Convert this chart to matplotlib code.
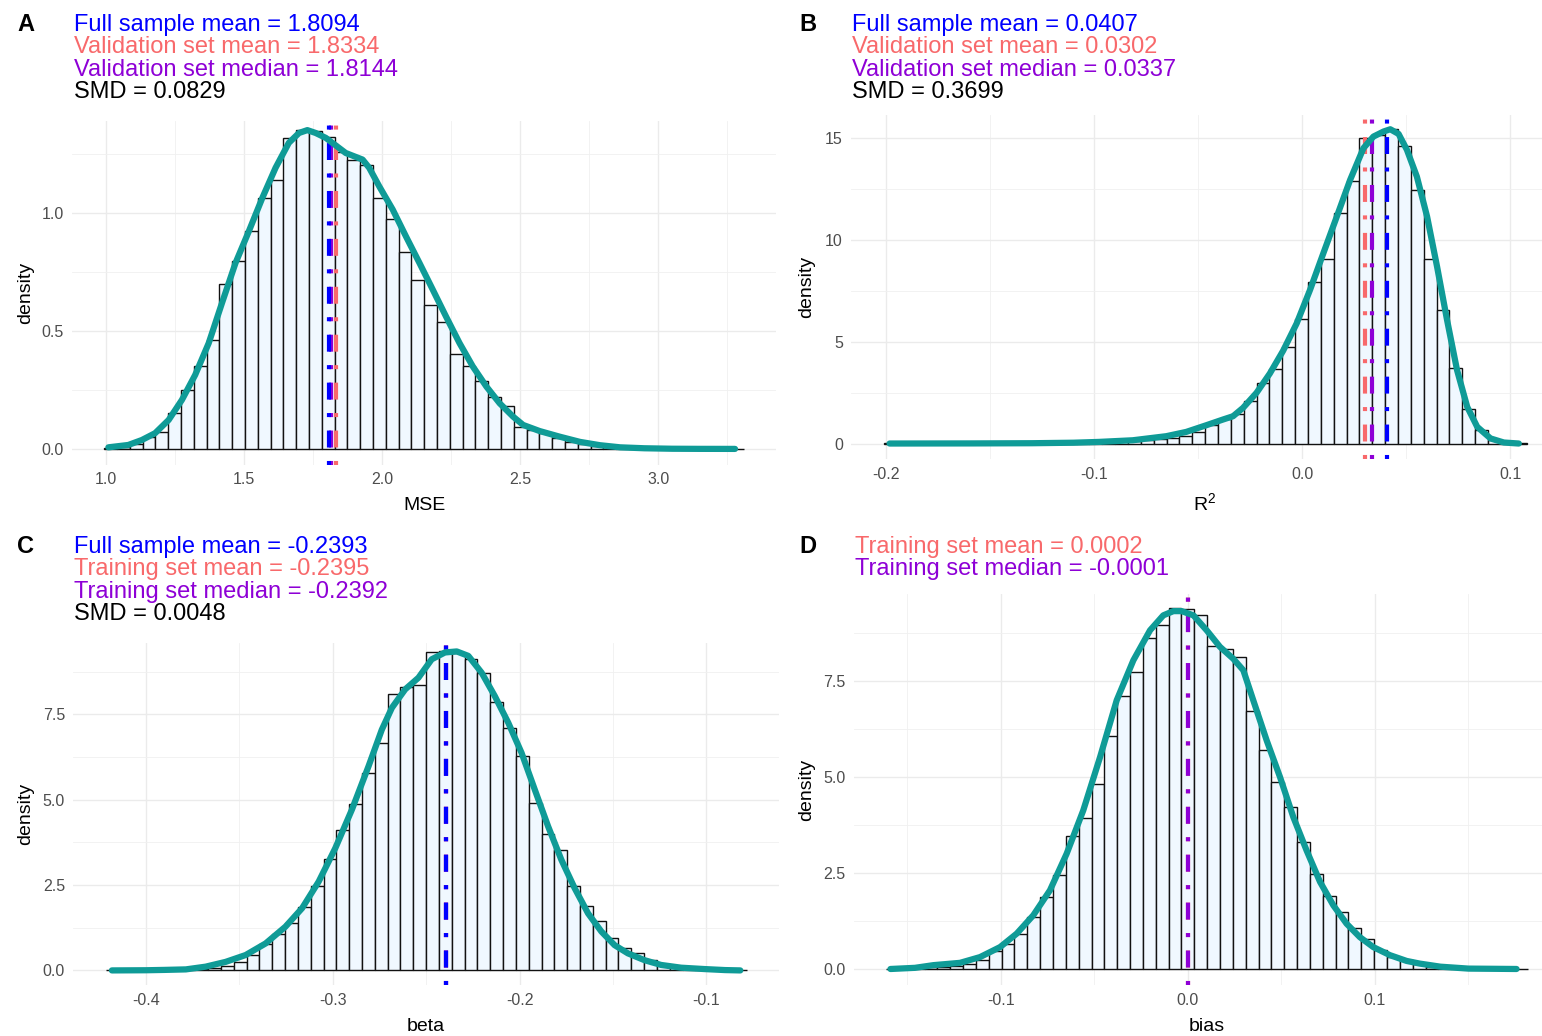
import numpy as np
import matplotlib
matplotlib.use("Agg")
import matplotlib.pyplot as plt
from matplotlib.ticker import FixedLocator, FixedFormatter

plt.rcParams['font.family'] = ['Liberation Sans', 'DejaVu Sans']
plt.rcParams['lines.scale_dashes'] = False
plt.rcParams['axes.unicode_minus'] = False

W, H = 1542, 1036

# ---------------- data ----------------
# Panel A: MSE
mse_bin_start = 0.995
mse_bin_width = 0.04632
mse_hist = [0.003, 0.01, 0.022, 0.052, 0.07, 0.152, 0.25, 0.35, 0.463, 0.70,
            0.796, 0.923, 1.065, 1.143, 1.32, 1.355, 1.348, 1.323, 1.26, 1.228,
            1.204, 1.065, 0.976, 0.834, 0.715, 0.612, 0.54, 0.402, 0.35, 0.29,
            0.222, 0.184, 0.095, 0.081, 0.069, 0.045, 0.031, 0.02, 0.013, 0.007,
            0.004, 0.003, 0.002, 0.001, 0.001, 0.001, 0.0005, 0.0005, 0.0005, 0.0005]
mse_dens_x = [1.010, 1.082, 1.131, 1.179, 1.228, 1.276, 1.324, 1.373, 1.421, 1.470,
              1.518, 1.567, 1.615, 1.663, 1.700, 1.730, 1.760, 1.797, 1.833, 1.869,
              1.906, 1.930, 1.954, 1.990, 2.039, 2.087, 2.136, 2.184, 2.232, 2.281,
              2.329, 2.378, 2.426, 2.475, 2.511, 2.571, 2.644, 2.717, 2.789, 2.862,
              2.950, 3.050, 3.150, 3.278]
mse_dens_y = [0.007, 0.017, 0.038, 0.067, 0.123, 0.208, 0.314, 0.449, 0.619, 0.789,
              0.923, 1.065, 1.193, 1.299, 1.341, 1.353, 1.341, 1.320, 1.288, 1.256,
              1.239, 1.228, 1.193, 1.115, 1.016, 0.902, 0.789, 0.676, 0.562, 0.449,
              0.350, 0.265, 0.194, 0.137, 0.102, 0.076, 0.052, 0.030, 0.016, 0.007,
              0.003, 0.001, 0.0005, 0.0003]
mse_full_mean, mse_set_mean, mse_set_median, mse_smd = 1.8094, 1.8334, 1.8144, 0.0829

# Panel B: R^2
r2_bin_start = -0.2012
r2_bin_width = 0.00618
r2_hist = [0.005, 0.005, 0.005, 0.005, 0.005, 0.01, 0.01, 0.01, 0.01, 0.015,
           0.02, 0.02, 0.03, 0.03, 0.04, 0.05, 0.06, 0.08, 0.1, 0.12,
           0.15, 0.2, 0.26, 0.38, 0.58, 0.92, 1.2, 1.45, 2.1, 2.98,
           3.64, 4.75, 6.1, 7.92, 9.07, 11.34, 12.92, 15.0, 15.15, 15.46,
           14.62, 12.46, 9.07, 6.56, 3.69, 1.70, 0.66, 0.16, 0.05, 0.01]
r2_dens_x = [-0.1984, -0.16, -0.13, -0.11, -0.0976, -0.0815, -0.0654, -0.0558, -0.0461,
             -0.0381, -0.0333, -0.0285, -0.0220, -0.0156, -0.0092, -0.0027, 0.0037,
             0.0101, 0.0166, 0.0230, 0.0294, 0.0342, 0.0391, 0.0423, 0.0463, 0.0503,
             0.0551, 0.0600, 0.0648, 0.0696, 0.0744, 0.0793, 0.0841, 0.0905, 0.0969, 0.1041]
r2_dens_y = [0.0, 0.005, 0.015, 0.04, 0.08, 0.16, 0.36, 0.57, 0.90,
             1.18, 1.34, 1.75, 2.49, 3.44, 4.56, 5.90, 7.54,
             9.34, 11.15, 12.95, 14.51, 15.08, 15.33, 15.44, 15.21, 14.43,
             13.11, 11.15, 8.69, 6.07, 3.61, 1.80, 0.82, 0.25, 0.05, 0.0]
r2_full_mean, r2_set_mean, r2_set_median, r2_smd = 0.0407, 0.0302, 0.0337, 0.3699

# Panel C: beta
beta_bin_start = -0.4216
beta_bin_width = 0.006864
beta_hist = [0.002, 0.003, 0.005, 0.008, 0.01, 0.015, 0.02, 0.03, 0.06, 0.13,
             0.25, 0.45, 0.77, 1.07, 1.38, 1.85, 2.48, 3.26, 4.12, 4.88,
             5.78, 6.66, 8.08, 8.31, 8.35, 9.32, 9.34, 9.30, 9.11, 8.72,
             7.87, 7.1, 6.29, 4.9, 4.0, 3.53, 2.48, 1.89, 1.45, 0.96,
             0.65, 0.52, 0.3, 0.18, 0.11, 0.06, 0.03, 0.015, 0.008, 0.004]
beta_dens_x = [-0.4182, -0.40, -0.39, -0.3786, -0.368, -0.3573, -0.3466, -0.3359, -0.3253,
               -0.3164, -0.3075, -0.2986, -0.2897, -0.2808, -0.2737, -0.2683, -0.2612,
               -0.2541, -0.2470, -0.2399, -0.2336, -0.2274, -0.2203, -0.2132, -0.2060,
               -0.1989, -0.1918, -0.1847, -0.1776, -0.1705, -0.1633, -0.1562, -0.1491,
               -0.1420, -0.1331, -0.1242, -0.1135, -0.1011, -0.0900, -0.0818]
beta_dens_y = [0.0, 0.005, 0.015, 0.03, 0.11, 0.25, 0.45, 0.79, 1.28,
               1.82, 2.60, 3.58, 4.71, 5.98, 7.05, 7.69, 8.23,
               8.57, 9.11, 9.31, 9.34, 9.21, 8.72, 8.03, 7.25,
               6.37, 5.29, 4.22, 3.24, 2.41, 1.67, 1.14, 0.74,
               0.50, 0.30, 0.16, 0.08, 0.04, 0.01, 0.0]
beta_full_mean, beta_set_mean, beta_set_median, beta_smd = -0.2393, -0.2395, -0.2392, 0.0048

# Panel D: bias
bias_bin_start = -0.1615
bias_bin_width = 0.00687
bias_hist = [0.005, 0.01, 0.02, 0.04, 0.06, 0.08, 0.12, 0.23, 0.47, 0.64,
             0.92, 1.35, 1.88, 2.44, 3.47, 3.93, 4.83, 6.08, 7.11, 7.73,
             8.63, 8.97, 9.41, 9.38, 9.23, 8.40, 8.34, 8.13, 6.71, 5.71,
             4.87, 4.22, 3.31, 2.48, 1.89, 1.48, 1.07, 0.79, 0.5, 0.31,
             0.23, 0.12, 0.06, 0.03, 0.015, 0.008, 0.004, 0.002, 0.001, 0.001]
bias_dens_x = [-0.1591, -0.146, -0.1361, -0.1219, -0.1112, -0.1005, -0.0916, -0.0827,
               -0.0738, -0.0649, -0.0560, -0.0470, -0.0381, -0.0292, -0.0203, -0.0132,
               -0.0078, -0.0034, 0.0029, 0.0100, 0.0171, 0.0242, 0.0296, 0.0349,
               0.0421, 0.0492, 0.0563, 0.0634, 0.0706, 0.0777, 0.0848, 0.0919,
               0.0991, 0.1080, 0.1169, 0.1240, 0.1350, 0.1500, 0.1757]
bias_dens_y = [0.0, 0.03, 0.10, 0.16, 0.31, 0.57, 0.92, 1.40,
               2.05, 3.00, 4.13, 5.52, 7.00, 8.04, 8.82, 9.21,
               9.32, 9.32, 9.21, 8.82, 8.39, 8.08, 7.78, 7.00,
               5.95, 5.00, 3.96, 3.09, 2.27, 1.66, 1.18, 0.83,
               0.57, 0.36, 0.21, 0.14, 0.06, 0.01, 0.0]
bias_set_mean, bias_set_median = 0.0002, -0.0001

# tick labels
mse_xticks = [1.0, 1.5, 2.0, 2.5, 3.0]
mse_xticklabels = ["1.0", "1.5", "2.0", "2.5", "3.0"]
mse_yticks = [0.0, 0.5, 1.0]
mse_yticklabels = ["0.0", "0.5", "1.0"]
r2_xticks = [-0.2, -0.1, 0.0, 0.1]
r2_xticklabels = ["-0.2", "-0.1", "0.0", "0.1"]
r2_yticks = [0, 5, 10, 15]
r2_yticklabels = ["0", "5", "10", "15"]
beta_xticks = [-0.4, -0.3, -0.2, -0.1]
beta_xticklabels = ["-0.4", "-0.3", "-0.2", "-0.1"]
beta_yticks = [0.0, 2.5, 5.0, 7.5]
beta_yticklabels = ["0.0", "2.5", "5.0", "7.5"]
bias_xticks = [-0.1, 0.0, 0.1]
bias_xticklabels = ["-0.1", "0.0", "0.1"]
bias_yticks = [0.0, 2.5, 5.0, 7.5]
bias_yticklabels = ["0.0", "2.5", "5.0", "7.5"]

# ---------------- style ----------------
BLUE = "#0000FF"
SALMON = "#F8696B"
PURPLE = "#8E00D6"
TEAL = "#0F9B97"
FILL = "#F0F8FF"
GRID = "#EBEBEB"
VDASH = (0, (2.9, 9.7, 12.2, 9.7))

fig = plt.figure(figsize=(W / 100, H / 100), dpi=100)


def add_axes_px(l, t, r, b):
    return fig.add_axes([l / W, 1 - b / H, (r - l) / W, (b - t) / H])


def fx(x):
    return x / W


def fy(y):
    return 1 - y / H


def make_panel(rect, xlim, ylim, bin_start, bin_width, hist, dens_x, dens_y,
               vlines, xticks, xticklabels, yticks, yticklabels, xminor, yminor,
               xlabel, ylabel_x, xlabel_base):
    l, t, r, b = rect
    ax = add_axes_px(l, t, r, b)
    ax.set_xlim(*xlim)
    ax.set_ylim(*ylim)
    for s in ax.spines.values():
        s.set_visible(False)
    ax.set_facecolor("white")
    ax.xaxis.set_major_locator(FixedLocator(xticks))
    ax.xaxis.set_major_formatter(FixedFormatter(xticklabels))
    ax.yaxis.set_major_locator(FixedLocator(yticks))
    ax.yaxis.set_major_formatter(FixedFormatter(yticklabels))
    ax.xaxis.set_minor_locator(FixedLocator(xminor))
    ax.yaxis.set_minor_locator(FixedLocator(yminor))
    ax.grid(True, which="major", color=GRID, linewidth=1.0, zorder=0)
    ax.grid(True, which="minor", color="#F0F0F0", linewidth=0.6, zorder=0)
    ax.set_axisbelow(True)
    ax.tick_params(which="both", length=0)
    ax.tick_params(axis="x", pad=5.5, labelsize=11.5, labelcolor="#4D4D4D")
    ax.tick_params(axis="y", pad=6.0, labelsize=11.5, labelcolor="#4D4D4D")

    n = len(hist)
    edges = bin_start + bin_width * np.arange(n)
    ax.bar(edges, hist, width=bin_width, align="edge", color=FILL,
           edgecolor="#111111", linewidth=1.0, zorder=2)
    for v, c in vlines:
        ax.axvline(v, color=c, linewidth=3.0, linestyle=VDASH, zorder=3)
    ax.plot(dens_x, dens_y, color=TEAL, linewidth=4.5, solid_capstyle="round",
            solid_joinstyle="round", zorder=4)

    cx = (l + r) / 2
    fig.text(fx(cx), fy(xlabel_base), xlabel, ha="center", va="baseline",
             fontsize=14, color="black")
    fig.text(fx(ylabel_x), fy((t + b) / 2), "density", ha="center", va="center",
             rotation=90, fontsize=14, color="black")
    return ax


def header(letter, letter_x, text_x, base_y, lines):
    fig.text(fx(letter_x), fy(base_y), letter, ha="left", va="baseline",
             fontsize=17, fontweight="bold", color="black")
    for i, (txt, col) in enumerate(lines):
        fig.text(fx(text_x), fy(base_y + 22.4 * i), txt, ha="left", va="baseline",
                 fontsize=17, color=col)


# Panel A
make_panel((72.2, 120.7, 776.2, 464.6), (0.879, 3.427), (-0.0663, 1.393),
           mse_bin_start, mse_bin_width, mse_hist, mse_dens_x, mse_dens_y,
           [(mse_set_mean, SALMON), (mse_set_median, PURPLE), (mse_full_mean, BLUE)],
           mse_xticks, mse_xticklabels, mse_yticks, mse_yticklabels,
           [1.25, 1.75, 2.25, 2.75, 3.25], [0.25, 0.75, 1.25],
           "MSE", 25.5, 510)
header("A", 17, 73.7, 31, [
    ("Full sample mean = %.4f" % mse_full_mean, BLUE),
    ("Validation set mean = %.4f" % mse_set_mean, SALMON),
    ("Validation set median = %.4f" % mse_set_median, PURPLE),
    ("SMD = %.4f" % mse_smd, "black")])

# Panel B
make_panel((851.1, 114.6, 1557.3, 459.2), (-0.2169, 0.1226), (-0.77, 16.16),
           r2_bin_start, r2_bin_width, r2_hist, r2_dens_x, r2_dens_y,
           [(r2_set_mean, SALMON), (r2_set_median, PURPLE), (r2_full_mean, BLUE)],
           r2_xticks, r2_xticklabels, r2_yticks, r2_yticklabels,
           [-0.15, -0.05, 0.05], [2.5, 7.5, 12.5],
           r"$\mathregular{R^2}$", 806.7, 510)
header("B", 799, 852, 31, [
    ("Full sample mean = %.4f" % r2_full_mean, BLUE),
    ("Validation set mean = %.4f" % r2_set_mean, SALMON),
    ("Validation set median = %.4f" % r2_set_median, PURPLE),
    ("SMD = %.4f" % r2_smd, "black")])

# Panel C
make_panel((73.4, 642.9, 778.8, 985.1), (-0.4388, -0.0612), (-0.43, 9.59),
           beta_bin_start, beta_bin_width, beta_hist, beta_dens_x, beta_dens_y,
           [(beta_set_mean, SALMON), (beta_set_median, PURPLE), (beta_full_mean, BLUE)],
           beta_xticks, beta_xticklabels, beta_yticks, beta_yticklabels,
           [-0.35, -0.25, -0.15], [1.25, 3.75, 6.25, 8.75],
           "beta", 25.5, 1031)
header("C", 17, 73.7, 553, [
    ("Full sample mean = %.4f" % beta_full_mean, BLUE),
    ("Training set mean = %.4f" % beta_set_mean, SALMON),
    ("Training set median = %.4f" % beta_set_median, PURPLE),
    ("SMD = %.4f" % beta_smd, "black")])

# Panel D
make_panel((853.8, 594.0, 1560.5, 985.0), (-0.1787, 0.1992), (-0.417, 9.766),
           bias_bin_start, bias_bin_width, bias_hist, bias_dens_x, bias_dens_y,
           [(bias_set_mean, SALMON), (bias_set_median, PURPLE)],
           bias_xticks, bias_xticklabels, bias_yticks, bias_yticklabels,
           [-0.15, -0.05, 0.05, 0.15], [1.25, 3.75, 6.25, 8.75],
           "bias", 806.7, 1031)
header("D", 799, 855, 553, [
    ("Training set mean = %.4f" % bias_set_mean, SALMON),
    ("Training set median = %.4f" % bias_set_median, PURPLE)])

fig.savefig("out.png", dpi=100, facecolor="white")
